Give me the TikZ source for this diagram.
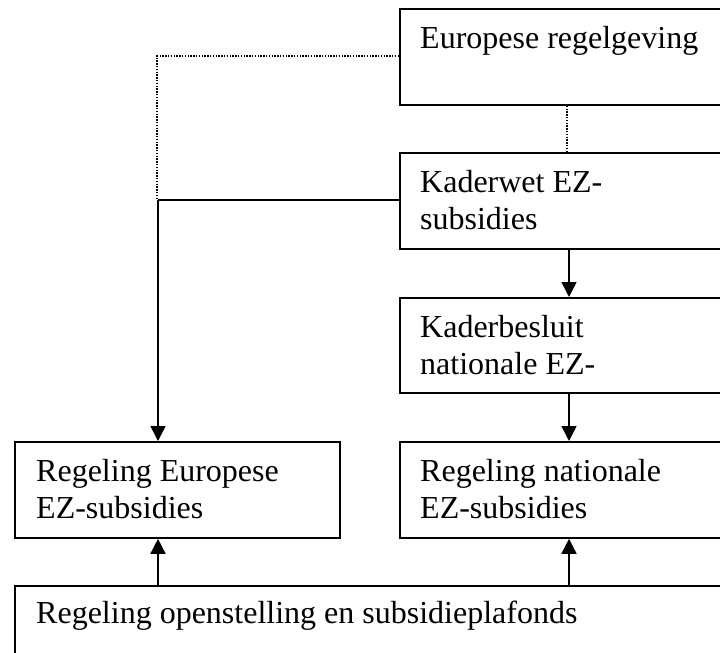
\documentclass[tikz,border=0pt]{standalone}
\usepackage{fontspec}
\setmainfont{Liberation Serif}
\usetikzlibrary{arrows.meta,calc}
\begin{document}
\begin{tikzpicture}[x=1pt,y=-1pt,
  box/.style={draw=black,line width=1.8pt,rectangle,inner sep=0pt,anchor=north west},
  txt/.style={anchor=base west,inner sep=0pt,align=left,font=\fontsize{32}{37}\selectfont},
  arr/.style={line width=1.5pt,-{Triangle[length=15pt,width=15pt]}},
  link/.style={line width=1.5pt},
  dots/.style={line width=1.4pt,dash pattern=on 1.4pt off 1.4pt}]
\clip (0,0) rectangle (720,653);
\fill[white] (0,0) rectangle (720,653);
% boxes
\node[box,minimum width=331pt,minimum height=96pt] (eu) at (399,8) {};
\node[box,minimum width=331pt,minimum height=96pt] (kw) at (399,152) {};
\node[box,minimum width=331pt,minimum height=95pt] (kb) at (399,297) {};
\node[box,minimum width=331pt,minimum height=96pt] (rn) at (399,441) {};
\node[box,minimum width=325pt,minimum height=96pt] (re) at (14,441) {};
\node[box,minimum width=716pt,minimum height=80pt] (ro) at (14,585) {};
% texts (base anchor = baseline of the last line)
\node[txt] (teu) at ($(eu.north west)+(21,40)$) {Europese regelgeving};
\node[txt] (tkw) at ($(kw.north west)+(21,77)$) {Kaderwet EZ-\\subsidies};
\node[txt] (tkb) at ($(kb.north west)+(21,77)$) {Kaderbesluit\\nationale EZ-};
\node[txt] (trn) at ($(rn.north west)+(21,77)$) {Regeling nationale\\EZ-subsidies};
\node[txt] (tre) at ($(re.north west)+(22,77)$) {Regeling Europese\\EZ-subsidies};
\node[txt] (tro) at ($(ro.north west)+(22,38)$) {Regeling openstelling en subsidieplafonds};
% column coordinates
\coordinate (cr) at (569,0);
\coordinate (cl) at (158,0);
\coordinate (dl) at (157,0);
\coordinate (dm) at (567,0);
% dotted links
\draw[dots] (eu.west |- 0,56) -| ($(dl)+(0,199)$);
\draw[dots] (eu.south -| dm) -- (kw.north -| dm);
% solid links and arrows
\draw[link] (kw.west |- 0,200) -- ($(cl)+(0,200)$);
\draw[arr] ($(cl)+(0,200)$) -- (re.north -| cl);
\draw[arr] (kw.south -| cr) -- (kb.north -| cr);
\draw[arr] (kb.south -| cr) -- (rn.north -| cr);
\draw[arr] (ro.north -| cl) -- (re.south -| cl);
\draw[arr] (ro.north -| cr) -- (rn.south -| cr);
\end{tikzpicture}
\end{document}
